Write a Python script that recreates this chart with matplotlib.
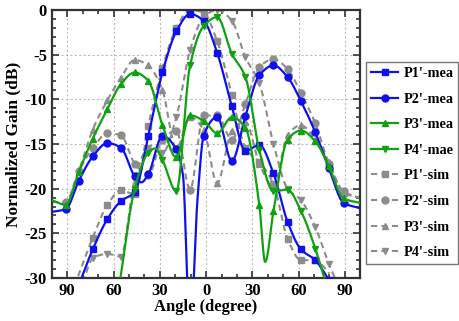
import numpy as np
import matplotlib
matplotlib.use("Agg")
import matplotlib.pyplot as plt
from matplotlib.ticker import MultipleLocator, FuncFormatter

# Marker positions shared by every pattern (degrees)
MARK_ANGLES = [-91, -82.5, -73.5, -64, -55.3, -46.3, -37.5, -28.3, -19.3, -10.4,
               -1.6, 7.2, 16.7, 25.5, 34.5, 43.7, 52.8, 61.5, 70.8, 79.6, 89.2]

# Measured patterns
p1_mea_ang = [-82.5, -73.5, -64, -55.3, -46.3, -37.5, -28.3, -19.3, -10.4, -1.6,
              7.2, 16.7, 25.5, 34.5, 43.7, 52.8, 61.5, 70.8, 79.6]
p1_mea_db = [-30.8, -26.8, -23.4, -21.4, -20.4, -14.1, -7.0, -2.4, -0.45, -1.2,
             -4.8, -10.8, -15.8, -15.1, -18.3, -23.7, -26.8, -28.0, -30.2]

p2_mea_ang = [-100, -91, -82.5, -73.5, -64, -55.3, -46.3, -42, -37.5, -28.3, -19.3,
              -15, -10.4, -5.5, -1.6, 7.2, 16.7, 25.5, 34.5, 43.7, 52.8, 61.5,
              70.8, 79.6, 89.2, 100]
p2_mea_db = [-22.6, -22.3, -19.1, -16.4, -14.9, -15.4, -18.6, -19.3, -18.4, -14.1,
             -15.6, -18.5, -36.0, -21.0, -14.1, -12.0, -16.9, -11.9, -7.3, -6.2,
             -7.5, -10.2, -13.7, -17.7, -21.6, -22.2]

p3_mea_ang = [-100, -91, -82.5, -73.5, -64, -55.3, -46.3, -37.5, -28.3, -19.3,
              -10.4, -1.6, 7.2, 16.7, 25.5, 34.5, 38.3, 43.7, 52.8, 61.5, 70.8,
              79.6, 89.2, 100]
p3_mea_db = [-21.3, -21.8, -18.1, -14.4, -11.1, -8.3, -7.0, -7.9, -12.9, -16.5,
             -11.8, -12.4, -13.8, -12.0, -13.2, -21.8, -28.2, -22.5, -14.5, -13.5,
             -14.7, -17.5, -21.1, -21.6]

p4_mea_ang = [-56, -46.3, -37.5, -33, -28.3, -19.3, -10.4, -1.6, 7.2, 16.7, 25.5,
              34.5, 43.7, 52.8, 61.5, 70.8, 80]
p4_mea_db = [-30.5, -20.0, -16.0, -15.5, -16.8, -20.3, -6.2, -1.8, -0.8, -4.9,
             -7.5, -15.7, -20.3, -20.1, -22.5, -26.7, -32.0]

# Simulated patterns
p1_sim_ang = [-83, -73.5, -64, -55.3, -46.3, -37.5, -28.3, -19.3, -10.4, -1.6, 7.2,
              16.7, 25.5, 34.5, 43.7, 52.8, 61.5, 70.8, 80]
p1_sim_db = [-29.8, -25.5, -21.8, -20.2, -20.6, -13.0, -6.5, -2.0, 0.0, -0.3, -3.5,
             -9.5, -15.5, -17.0, -19.5, -25.6, -28.0, -28.0, -29.5]

p2_sim_ang = [-100, -91, -82.5, -73.5, -64, -55.3, -46.3, -37.5, -28.3, -19.3,
              -10.4, -1.6, 7.2, 16.7, 25.5, 34.5, 43.7, 52.8, 61.5, 70.8, 79.6,
              89.2, 100]
p2_sim_db = [-21.5, -21.5, -18.0, -15.5, -13.8, -14.0, -17.2, -18.5, -14.5, -13.5,
             -20.1, -11.8, -11.8, -14.5, -10.5, -6.4, -5.5, -6.6, -9.3, -12.7,
             -17.2, -20.3, -21.1]

p3_sim_ang = [-100, -91, -82.5, -73.5, -64, -55.3, -46.3, -37.5, -28.3, -19.3,
              -10.4, -1.6, 7.2, 16.7, 25.5, 34.5, 43.7, 52.8, 61.5, 70.8, 79.6,
              89.2, 100]
p3_sim_db = [-21.5, -21.5, -18.0, -13.4, -10.1, -7.6, -5.6, -6.2, -9.0, -15.5,
             -12.0, -13.4, -19.4, -13.5, -12.5, -17.2, -19.8, -14.0, -12.9, -14.5,
             -17.0, -20.5, -21.0]

p4_sim_ang = [-80, -73.5, -64, -55.3, -46.3, -37.5, -28.3, -19.3, -10.4, -1.6, 7.2,
              16.7, 25.5, 34.5, 43.7, 52.8, 61.5, 70.8, 79.6, 86]
p4_sim_db = [-30.5, -27.8, -27.3, -27.6, -19.0, -15.5, -16.0, -12.0, -4.5, -0.8,
             0.0, -1.2, -5.3, -8.2, -15.0, -20.0, -21.3, -24.3, -28.4, -31.0]

labels = ["P1'-mea", "P2'-mea", "P3'-mea", "P4'-mae",
          "P1'-sim", "P2'-sim", "P3'-sim", "P4'-sim"]


def smooth_curve(x, y, n=16):
    """Shape-preserving cubic (Fritsch-Carlson) through (x, y)."""
    x = np.asarray(x, float)
    y = np.asarray(y, float)
    h = np.diff(x)
    d = np.diff(y) / h
    m = np.zeros_like(y)
    m[0], m[-1] = d[0], d[-1]
    for i in range(1, len(x) - 1):
        if d[i - 1] * d[i] > 0:
            w1 = 2 * h[i] + h[i - 1]
            w2 = h[i] + 2 * h[i - 1]
            m[i] = (w1 + w2) / (w1 / d[i - 1] + w2 / d[i])
    xs, ys = [], []
    for i in range(len(x) - 1):
        t = np.linspace(0, 1, n, endpoint=False)
        h00 = 2 * t ** 3 - 3 * t ** 2 + 1
        h10 = t ** 3 - 2 * t ** 2 + t
        h01 = -2 * t ** 3 + 3 * t ** 2
        h11 = t ** 3 - t ** 2
        xs.append(x[i] + t * h[i])
        ys.append(h00 * y[i] + h10 * h[i] * m[i] + h01 * y[i + 1] + h11 * h[i] * m[i + 1])
    xs.append([x[-1]])
    ys.append([y[-1]])
    return np.concatenate(xs), np.concatenate(ys)


plt.rcParams['font.family'] = ['Liberation Serif', 'DejaVu Serif']
plt.rcParams['font.weight'] = 'bold'

fig = plt.figure(figsize=(4.59, 3.21), dpi=100)
ax = fig.add_axes([0.113, 0.134, 0.672, 0.835])

BLUE = '#1010ee'
GREEN = '#10a010'
GRAY = '#8c8c8c'

series = [
    (p1_mea_ang, p1_mea_db, BLUE, 's', '-'),
    (p2_mea_ang, p2_mea_db, BLUE, 'o', '-'),
    (p3_mea_ang, p3_mea_db, GREEN, '^', '-'),
    (p4_mea_ang, p4_mea_db, GREEN, 'v', '-'),
    (p1_sim_ang, p1_sim_db, GRAY, 's', '--'),
    (p2_sim_ang, p2_sim_db, GRAY, 'o', '--'),
    (p3_sim_ang, p3_sim_db, GRAY, '^', '--'),
    (p4_sim_ang, p4_sim_db, GRAY, 'v', '--'),
]

# simulated curves drawn underneath the measured ones
for k in [4, 5, 6, 7, 0, 1, 2, 3]:
    ang, db, col, mk, ls = series[k]
    z = 2 if ls == '--' else 3
    sx, sy = smooth_curve(ang, db)
    if ls == '--':
        ax.plot(sx, sy, color=col, lw=1.5, zorder=z, dashes=(3, 2))
    else:
        ax.plot(sx, sy, color=col, lw=1.6, zorder=z)
    mark = np.isin(np.round(ang, 1), np.round(MARK_ANGLES, 1))
    ax.plot(np.asarray(ang)[mark], np.asarray(db)[mark], ls='none', marker=mk,
            ms=5, color=col, zorder=z)

handles = []
for k in range(8):
    ang, db, col, mk, ls = series[k]
    if ls == '--':
        h, = ax.plot([], [], color=col, lw=1.5, marker=mk, ms=5, dashes=(3, 2))
    else:
        h, = ax.plot([], [], color=col, lw=1.6, marker=mk, ms=5)
    handles.append(h)

ax.set_xlim(-100, 100)
ax.set_ylim(-30, 0)
ax.xaxis.set_major_locator(MultipleLocator(30))
ax.xaxis.set_minor_locator(MultipleLocator(10))
ax.yaxis.set_major_locator(MultipleLocator(5))
ax.yaxis.set_minor_locator(MultipleLocator(1))
ax.xaxis.set_major_formatter(FuncFormatter(lambda v, p: f"{abs(int(round(v)))}"))
ax.yaxis.set_major_formatter(FuncFormatter(lambda v, p: f"{int(round(v))}"))
ax.tick_params(which='both', direction='in', top=True, right=True,
               labelsize=12, width=1.2, color='#333333')
ax.tick_params(which='major', length=5)
ax.tick_params(which='minor', length=3)
ax.grid(True, which='major', ls=(0, (2, 2)), color='#bbbbbb', lw=0.8)
for sp in ax.spines.values():
    sp.set_linewidth(1.6)
    sp.set_color('#333333')
for lab in ax.get_xticklabels() + ax.get_yticklabels():
    lab.set_fontweight('bold')

ax.set_xlabel("Angle (degree)", fontsize=12, fontweight='bold', labelpad=0)
ax.set_ylabel("Normalized Gain (dB)", fontsize=12.5, fontweight='bold', labelpad=2)

leg = fig.legend(handles, labels, loc='upper left',
                 bbox_to_anchor=(0.798, 0.807), frameon=True, fancybox=False,
                 fontsize=10.3, handlelength=1.9, handletextpad=0.35,
                 borderpad=0.35, labelspacing=0.88, borderaxespad=0)
leg.get_frame().set_edgecolor('#555555')
leg.get_frame().set_linewidth(1.0)
for t in leg.get_texts():
    t.set_fontweight('bold')

fig.savefig("out.png", dpi=100)
